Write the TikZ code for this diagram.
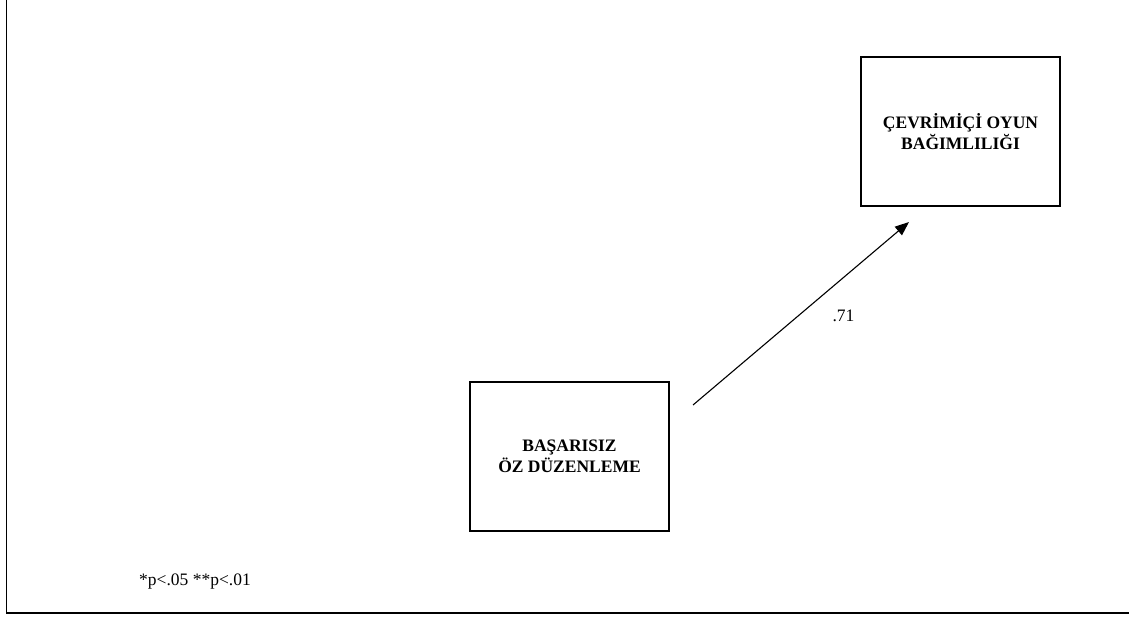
\documentclass[tikz,border=0pt]{standalone}
\usepackage{fontspec}
\setmainfont{Liberation Serif}
\usetikzlibrary{arrows.meta}
\tikzset{
  varbox/.style={draw, line width=1.2pt, minimum width=199pt, minimum height=149pt,
    align=center, inner sep=0pt, font=\bfseries\fontsize{17.5}{20.5}\selectfont},
  path/.style={line width=1.1pt, -{Triangle[length=14pt,width=11pt]}}
}
\begin{document}
\begin{tikzpicture}[x=1pt,y=-1pt]
\useasboundingbox (0,0) rectangle (1129,616);
\draw[line width=1.4pt] (6.5,0) -- (6.5,613) -- (1129,613);
\node[varbox] (oyun) at (960.5,131.5) {ÇEVRİMİÇİ OYUN\\BAĞIMLILIĞI};
\node[varbox] (ozd) at (569.5,456.5) {BAŞARISIZ\\ÖZ DÜZENLEME};
\coordinate (from) at (693,405);
\coordinate (to) at (909,222);
\draw[path] (from) -- (to);
\node[font=\fontsize{17.5}{20}\selectfont] (b71) at (843.5,316) {.71};
\node[font=\fontsize{17.5}{20}\selectfont] (not) at (195,582) {*p<.05 **p<.01};
\end{tikzpicture}
\end{document}
